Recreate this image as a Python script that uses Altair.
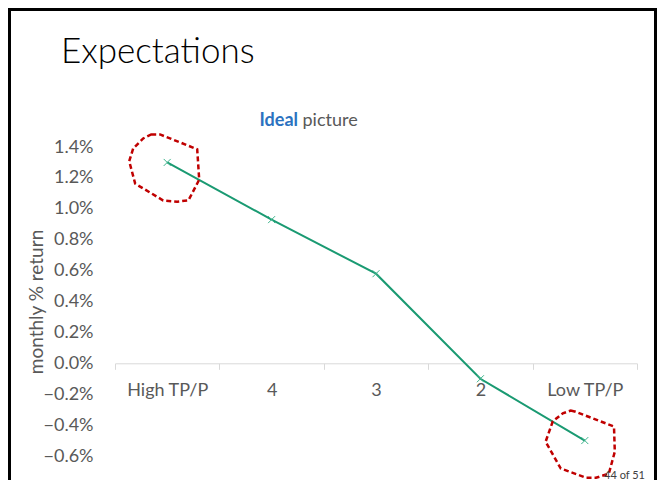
import altair as alt
import pandas as pd

categories = ["High TP/P", "4", "3", "2", "Low TP/P"]
returns = [0.0130, 0.0093, 0.0058, -0.0010, -0.0050]
y_ticks = [-0.006, -0.004, -0.002, 0.0, 0.002, 0.004, 0.006, 0.008, 0.010, 0.012, 0.014]

df = pd.DataFrame({"cat": categories, "ret": returns, "order": list(range(len(categories)))})

FONT = "Lato"
W, H = 522, 309
PL, PT = 107, 139
PR, PB = 20, 24

x_enc = alt.X("cat:N", sort=categories,
              scale=alt.Scale(paddingInner=0, paddingOuter=0),
              axis=alt.Axis(title=None, orient="bottom", offset=-92.7, labelAngle=0,
                            domainColor="#D9D9D9", tickColor="#D9D9D9", tickBand="extent",
                            tickSize=6, labelPadding=12, labelFontSize=18, labelFont=FONT,
                            labelColor="#595959", grid=False))
y_enc = alt.Y("ret:Q", scale=alt.Scale(domain=[-0.006, 0.014], nice=False, zero=False),
              axis=alt.Axis(title="monthly % return", format=".1%", values=y_ticks,
                            domain=False, ticks=False, grid=False, labelPadding=22,
                            labelFontSize=18, labelFont=FONT, labelColor="#595959",
                            titleFont=FONT, titleFontSize=19, titleFontWeight="normal",
                            titleColor="#595959", titleX=-79, titleY=H / 2,
                            titleBaseline="middle", titleAngle=270))

base = alt.Chart(df)

line = base.mark_line(color="#1A9A72", strokeWidth=2).encode(x=x_enc, y=y_enc, order="order:Q")
markers = base.mark_point(shape="M-1,-1L1,1M-1,1L1,-1", size=49, filled=False,
                          stroke="#3DB48C", strokeWidth=1, opacity=1).encode(x=x_enc, y=y_enc)

path1 = ("M-0.4,-0.7L-0.18,-0.7L0.75,-0.33L0.8,0.43L0.53,0.95L0.25,0.98L-0.1,0.95"
         "L-0.8,0.53L-0.95,-0.03L-0.85,-0.35L-0.6,-0.6Z")
path2 = ("M-0.35,-0.75L-0.23,-0.72L0.73,-0.35L0.75,0.28L0.6,0.83L0.28,0.93L0.03,0.93"
         "L-0.6,0.7L-0.98,0.03L-0.8,-0.48L-0.55,-0.68Z")
circ1 = base.transform_filter(alt.datum.cat == categories[0]).mark_point(
    shape=path1, size=6400, filled=False, stroke="#C00000", strokeWidth=2.5,
    strokeDash=[5, 3], opacity=1).encode(x=x_enc, y=y_enc)
circ2 = base.transform_filter(alt.datum.cat == categories[-1]).mark_point(
    shape=path2, size=6400, filled=False, stroke="#C00000", strokeWidth=2.5,
    strokeDash=[5, 3], opacity=1).encode(x=x_enc, y=y_enc)

one = pd.DataFrame({"a": [0]})
border = alt.Chart(one).mark_rect(fill=None, stroke="#000000", strokeWidth=3).encode(
    x=alt.value(-105.5), x2=alt.value(540.5), y=alt.value(-137.5), y2=alt.value(345))
title = alt.Chart(one).mark_text(text="Expectations", font=FONT, fontSize=35,
                                 fontWeight=300, color="#000000", align="left",
                                 baseline="alphabetic").encode(x=alt.value(-54), y=alt.value(-84))
sub1 = alt.Chart(one).mark_text(text="Ideal", font=FONT, fontSize=18, fontWeight="bold",
                                color="#2B72C0", align="right",
                                baseline="alphabetic").encode(x=alt.value(183), y=alt.value(-21))
sub2 = alt.Chart(one).mark_text(text="picture", font=FONT, fontSize=18, color="#595959",
                                align="left", baseline="alphabetic").encode(
    x=alt.value(187.5), y=alt.value(-21))
page = alt.Chart(one).mark_text(text="44 of 51", font=FONT, fontSize=11, color="#404040",
                                align="right", baseline="alphabetic").encode(
    x=alt.value(530), y=alt.value(332))

chart = alt.layer(border, title, sub1, sub2, line, markers, circ1, circ2, page).properties(
    width=W, height=H,
    background="white",
    autosize=alt.AutoSizeParams(type="none"),
    padding={"left": PL, "top": PT, "right": PR, "bottom": PB},
).configure_view(stroke=None)

chart.save("out.html", embed_options={"renderer": "svg", "actions": False})
